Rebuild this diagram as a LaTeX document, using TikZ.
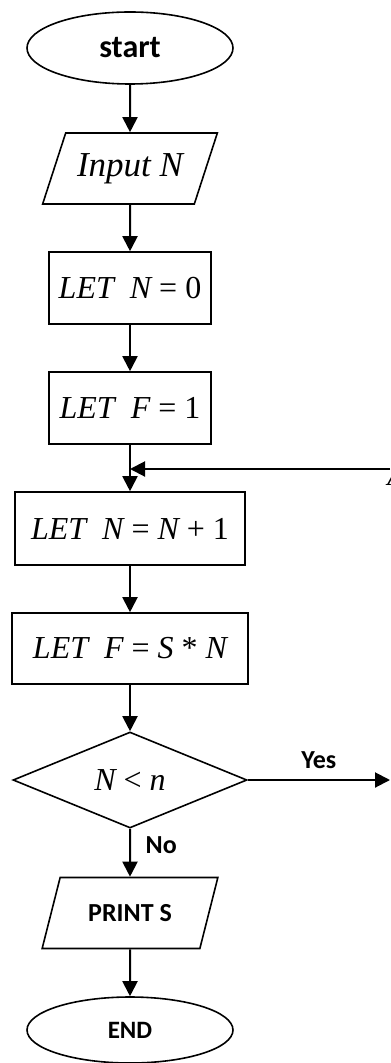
\documentclass[tikz,border=0pt]{standalone}
\usepackage{fontspec}
\setmainfont{Liberation Serif}
\newfontfamily\boldsans{Carlito}
\usetikzlibrary{shapes.geometric,arrows.meta}

\tikzset{
  base/.style={draw, line width=0.8pt, inner sep=0pt},
  terminal/.style={base, ellipse, minimum width=103pt, minimum height=36pt,
    font=\boldsans\bfseries\fontsize{12.5}{14}\selectfont},
  iobox/.style={base, trapezium, trapezium left angle=58, trapezium right angle=122,
    trapezium stretches=true, minimum width=88pt, minimum height=35.5pt},
  procbox/.style={base, rectangle, minimum height=36pt,
    font=\itshape\fontsize{16}{19}\selectfont},
  decision/.style={base, diamond, minimum width=117pt, minimum height=48pt,
    font=\itshape\fontsize{16}{19}\selectfont},
  arr/.style={line width=1pt, -{Triangle[length=7.5pt,width=7.5pt]}},
  tag/.style={font=\boldsans\bfseries\fontsize{13}{15}\selectfont}
}

\begin{document}
\begin{tikzpicture}[x=0.5pt,y=-0.5pt]
  \useasboundingbox (0,0) rectangle (390,1063);

  % main column
  \node[terminal, font=\boldsans\bfseries\fontsize{16}{18}\selectfont] (start) at (130,48) {start};
  \node[iobox, font=\itshape\fontsize{17.5}{20}\selectfont] (input) at (130,168.5) {Input N};
  \node[procbox, minimum width=81pt] (setn) at (130,288) {LET\ \ N {\upshape = 0}};
  \node[procbox, minimum width=81pt] (setf) at (130,408) {LET\ \ F {\upshape = 1}};
  \node[procbox, minimum width=115pt, minimum height=36.5pt] (incn) at (130,528.5) {LET\ \ N {\upshape =} N {\upshape + 1}};
  \node[procbox, minimum width=118pt, minimum height=35.5pt] (mult) at (130,648.5) {LET\ \ F {\upshape =} S {\upshape *} N};
  \node[decision] (test) at (130,780) {N {\upshape <} n};
  \node[iobox, tag] (print) at (130,913) {PRINT S};
  \node[terminal, minimum height=33pt] (stop) at (130,1030) {END};

  % loose ends at the right border
  \coordinate (loopin) at (390,469);
  \coordinate (yesout) at (390,780);
  \node[anchor=south west, inner sep=0pt, font=\itshape\fontsize{15}{18}\selectfont] (alabel) at (387,486) {A};

  % connectors
  \draw[arr] (start) -- (input);
  \draw[arr] (input) -- (setn);
  \draw[arr] (setn) -- (setf);
  \draw[arr] (setf) -- (incn);
  \draw[arr] (incn) -- (mult);
  \draw[arr] (mult) -- (test);
  \draw[arr] (test) -- node[tag, right, pos=0.35, xshift=4pt] {No} (print);
  \draw[arr] (print) -- (stop);
  \draw[arr] (test.east) -- node[tag, above=2pt] {Yes} (yesout);
  \draw[arr] (loopin) -- (loopin -| setf.south);
\end{tikzpicture}
\end{document}
